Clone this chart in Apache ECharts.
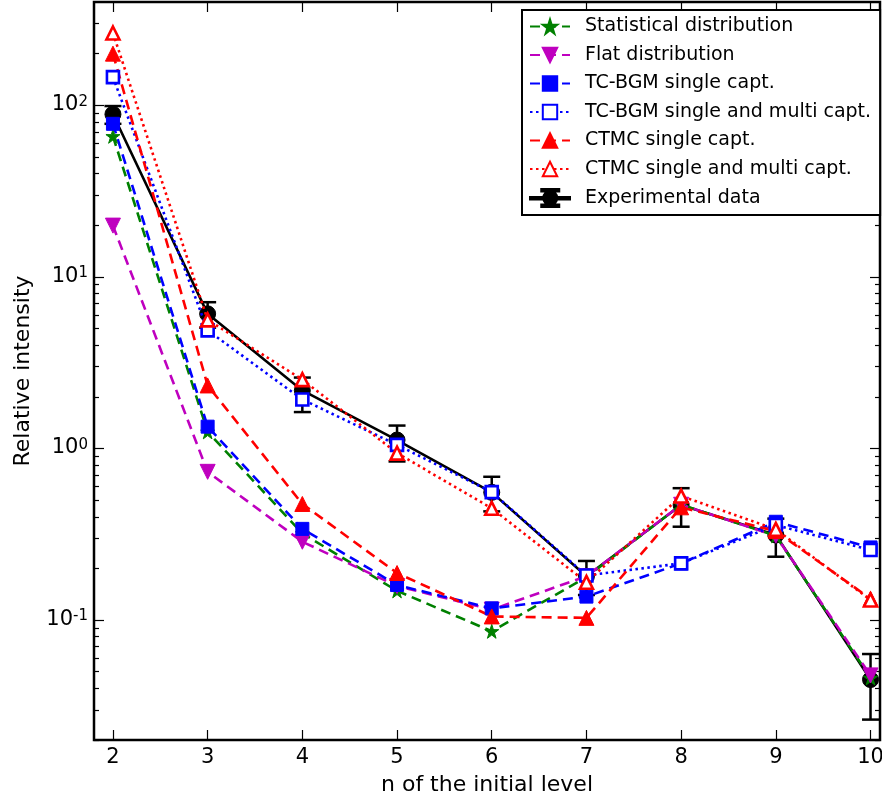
<!DOCTYPE html>
<html><head><meta charset="utf-8">
<script src="https://cdn.jsdelivr.net/npm/echarts@6/dist/echarts.min.js"></script>
<style>html,body{margin:0;padding:0;background:#fff}#c{width:882px;height:801px}</style>
</head><body><div id="c"></div><script>
const nLevels = [2, 3, 4, 5, 6, 7, 8, 9, 10];
const statistical = [66, 1.25, 0.32, 0.148, 0.086, 0.178, 0.47, 0.31, 0.046];
const flat = [19.9, 0.731, 0.286, 0.158, 0.115, 0.18, 0.47, 0.31, 0.0476];
const tcbgmSingle = [78, 1.34, 0.340, 0.160, 0.117, 0.137, 0.214, 0.374, 0.265];
const tcbgmMulti = [146, 4.88, 1.93, 1.05, 0.557, 0.182, 0.214, 0.358, 0.256];
const ctmcSingle = [200, 2.33, 0.475, 0.188, 0.105, 0.103, 0.454, 0.33, 0.133];
const ctmcMulti = [264, 5.62, 2.52, 0.94, 0.448, 0.166, 0.528, 0.338, 0.131];
const expData = [88.7, 6.09, 2.18, 1.12, 0.555, 0.18, 0.468, 0.313, 0.045];
const expErrLow = [78, 5.06, 1.63, 0.84, 0.43, 0.14, 0.35, 0.234, 0.0263];
const expErrHigh = [99, 7.12, 2.59, 1.36, 0.684, 0.221, 0.587, 0.39, 0.0634];
const xTicks = [2, 3, 4, 5, 6, 7, 8, 9, 10];
const yMajorTicks = [0.1, 1, 10, 100];
const yMinorTicks = [0.02, 0.03, 0.04, 0.05, 0.06, 0.07, 0.08, 0.09,
  0.2, 0.3, 0.4, 0.5, 0.6, 0.7, 0.8, 0.9,
  2, 3, 4, 5, 6, 7, 8, 9,
  20, 30, 40, 50, 60, 70, 80, 90, 200, 300];

const FONT = 'DejaVu Sans';
const STAR = 'path://M50,0 L61.17,34.63 L97.55,34.55 L68.07,55.87 L79.39,90.45 L50,69 L20.61,90.45 L31.93,55.87 L2.45,34.55 L38.83,34.63 Z';
const EXP_ICON = 'path://M0,8 h40 v2.5 h-40 Z M19,0 h2.5 v18 h-2.5 Z M11.25,0 h18 v2.5 h-18 Z M11.25,15.5 h18 v2.5 h-18 Z M13.25,9 a7,7 0 1,1 14,0 a7,7 0 1,1 -14,0 Z';
const DASH = [10, 6];
const DOT = [2.5, 3.5];

function pairs(ys) { return nLevels.map((x, i) => [x, ys[i]]); }

const chart = echarts.init(document.getElementById('c'), null, { renderer: 'canvas' });

const yFmt = v => '{b|10}{s|' + Math.round(Math.log10(v)) + '}';
const rich = {
  b: { fontSize: 21, fontFamily: FONT, color: '#000', verticalAlign: 'top', lineHeight: 22 },
  s: { fontSize: 15, fontFamily: FONT, color: '#000', verticalAlign: 'top', lineHeight: 15 }
};

function yAxisDef(pos, major, showLabel, showName) {
  return {
    type: 'log', logBase: 10, min: 0.02, max: 400, position: pos,
    name: showName ? 'Relative intensity' : '',
    nameLocation: 'middle', nameGap: 60,
    nameTextStyle: { fontSize: 22, fontFamily: FONT, color: '#000' },
    axisLine: { show: false },
    splitLine: { show: false },
    axisTick: { show: true, inside: true, length: major ? 10 : 5, customValues: major ? yMajorTicks : yMinorTicks,
      lineStyle: { color: '#000', width: 1.2 } },
    axisLabel: { show: showLabel, customValues: yMajorTicks, formatter: yFmt, rich: rich, margin: 6 }
  };
}

function xAxisDef(pos, showLabel) {
  return {
    type: 'value', min: 1.8, max: 10.1, position: pos,
    name: showLabel ? 'n of the initial level' : '',
    nameLocation: 'middle', nameGap: 34,
    nameTextStyle: { fontSize: 22, fontFamily: FONT, color: '#000' },
    axisLine: { show: false },
    splitLine: { show: false },
    axisTick: { show: true, inside: true, length: 10, customValues: xTicks, lineStyle: { color: '#000', width: 1.2 } },
    axisLabel: { show: showLabel, customValues: xTicks, fontSize: 21, fontFamily: FONT, color: '#000', margin: 7 }
  };
}

function lineSeries(name, ys, color, dash, symbol, size, open, rotate, z) {
  return {
    name: name, type: 'line', data: pairs(ys), z: z || 3,
    xAxisIndex: 0, yAxisIndex: 0,
    symbol: symbol, symbolSize: size, symbolRotate: rotate || 0,
    showAllSymbol: true, animation: false,
    lineStyle: { color: color, width: 2.6, type: dash },
    itemStyle: open ? { color: '#fff', borderColor: color, borderWidth: 2.6 }
                    : { color: color, borderColor: color, borderWidth: 1 }
  };
}

const option = {
  animation: false,
  backgroundColor: '#fff',
  grid: { left: 94, top: 2, right: 2, bottom: 61, show: true, borderColor: '#000', borderWidth: 2.5,
    backgroundColor: 'transparent', containLabel: false, outerBoundsMode: 'none' },
  xAxis: [xAxisDef('bottom', true), xAxisDef('top', false)],
  yAxis: [yAxisDef('left', true, true, true), yAxisDef('left', false, false, false),
          yAxisDef('right', true, false, false), yAxisDef('right', false, false, false)],
  legend: {
    orient: 'vertical', left: 522, top: 10,
    backgroundColor: '#fff', borderColor: '#000', borderWidth: 2, borderRadius: 0,
    padding: [7, 9, 7, 7], itemGap: 9.5, itemWidth: 40, itemHeight: 18,
    textStyle: { fontSize: 19, fontFamily: FONT, color: '#000', padding: [0, 0, 0, 10] },
    data: [
      { name: 'Statistical distribution' },
      { name: 'Flat distribution' },
      { name: 'TC-BGM single capt.' },
      { name: 'TC-BGM single and multi capt.' },
      { name: 'CTMC single capt.' },
      { name: 'CTMC single and multi capt.' },
      { name: 'Experimental data', icon: EXP_ICON }
    ]
  },
  series: [
    {
      name: 'Experimental errors', type: 'custom', z: 1, xAxisIndex: 0, yAxisIndex: 0,
      data: nLevels.map((x, i) => [x, expErrLow[i], expErrHigh[i]]),
      encode: { x: 0, y: [1, 2] },
      renderItem: (params, api) => {
        const x = api.value(0);
        const pLo = api.coord([x, api.value(1)]);
        const pHi = api.coord([x, api.value(2)]);
        const hw = 8.5;
        const st = { stroke: '#000', lineWidth: 2.5 };
        return { type: 'group', children: [
          { type: 'line', shape: { x1: pLo[0], y1: pLo[1], x2: pHi[0], y2: pHi[1] }, style: st },
          { type: 'line', shape: { x1: pLo[0] - hw, y1: pLo[1], x2: pLo[0] + hw, y2: pLo[1] }, style: st },
          { type: 'line', shape: { x1: pHi[0] - hw, y1: pHi[1], x2: pHi[0] + hw, y2: pHi[1] }, style: st }
        ] };
      }
    },
    lineSeries('Experimental data', expData, '#000', 'solid', 'circle', 16, false, 0, 2),
    lineSeries('Statistical distribution', statistical, '#008000', DASH, STAR, 14, false),
    lineSeries('Flat distribution', flat, '#bf00bf', DASH, 'triangle', 15, false, 180),
    lineSeries('TC-BGM single capt.', tcbgmSingle, '#0000ff', DASH, 'rect', 13, false),
    lineSeries('TC-BGM single and multi capt.', tcbgmMulti, '#0000ff', DOT, 'rect', 12, true),
    lineSeries('CTMC single capt.', ctmcSingle, '#ff0000', DASH, 'triangle', 15, false),
    lineSeries('CTMC single and multi capt.', ctmcMulti, '#ff0000', DOT, 'triangle', 13, true)
  ]
};
chart.setOption(option);
</script></body></html>
